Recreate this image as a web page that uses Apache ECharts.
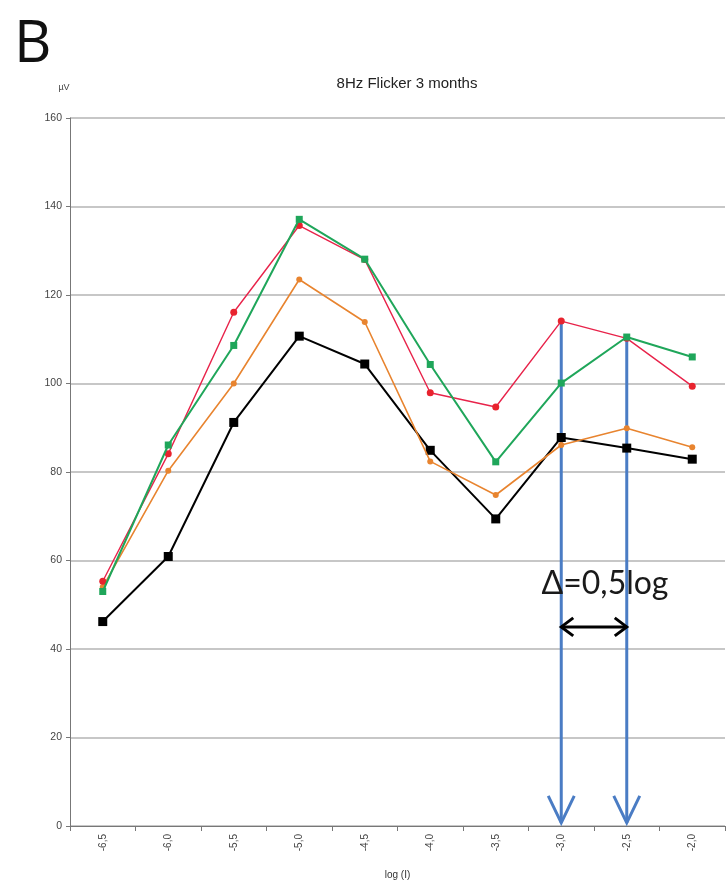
<!DOCTYPE html>
<html>
<head>
<meta charset="utf-8">
<style>
html,body{margin:0;padding:0;background:#fff;}
#chart{width:727px;height:885px;}
</style>
<script src="https://cdn.jsdelivr.net/npm/echarts@6/dist/echarts.min.js"></script>
</head>
<body>
<div id="chart"></div>
<script>
// ---- data ----
var categories = ['-6,5','-6,0','-5,5','-5,0','-4,5','-4,0','-3,5','-3,0','-2,5','-2,0'];
var blackSeries  = [46.2, 60.9, 91.2, 110.7, 104.4, 84.9, 69.4, 87.8, 85.4, 82.9];
var orangeSeries = [54.0, 80.3, 100.0, 123.5, 113.9, 82.4, 74.8, 86.1, 89.9, 85.6];
var redSeries    = [55.3, 84.1, 116.1, 135.7, 128.0, 97.9, 94.7, 114.1, 110.2, 99.4];
var greenSeries  = [53.0, 86.1, 108.6, 137.1, 128.1, 104.3, 82.3, 100.1, 110.5, 106.0];
var yTicks = [0, 20, 40, 60, 80, 100, 120, 140, 160];
// annotation: vertical arrows from a data point down to the axis
var arrowCats = ['-3,0', '-2,5'];
var arrowTops = [114.1, 110.5];
var arrowBottom = 0.7;
// annotation: horizontal double arrow + label
var deltaFrom = '-3,0', deltaTo = '-2,5', deltaLevel = 45, deltaTextLevel = 54.7;
var deltaLabel = 'Δ=0,5log';

var chart = echarts.init(document.getElementById('chart'), null, {renderer: 'canvas'});

var blue = '#4a7cc4';

var option = {
  animation: false,
  backgroundColor: '#fff',
  grid: {left: 70, right: 2, top: 118, bottom: 58, containLabel: false},
  graphic: [
    {type: 'text', left: 14, top: 16, style: {text: 'B', font: '58px "Open Sans", Lato, sans-serif', fill: '#111'}},
    {type: 'text', x: 407, y: 84, style: {text: '8Hz Flicker 3 months', font: '15px "Liberation Sans", Arial, sans-serif', fill: '#222', align: 'center', verticalAlign: 'middle'}},
    {type: 'text', x: 64, y: 88, style: {text: 'µV', font: '9px "Liberation Sans", Arial, sans-serif', fill: '#444', align: 'center', verticalAlign: 'middle'}}
  ],
  xAxis: {
    type: 'category',
    data: categories,
    boundaryGap: true,
    name: 'log (I)',
    nameLocation: 'middle',
    nameGap: 44,
    nameTextStyle: {fontSize: 10, color: '#333', fontFamily: '"Liberation Sans", Arial, sans-serif'},
    axisLine: {show: true, lineStyle: {color: '#777', width: 1}},
    axisTick: {show: true, length: 5, lineStyle: {color: '#777'}},
    axisLabel: {rotate: 90, fontSize: 10, color: '#444', margin: 8, fontFamily: '"Liberation Sans", Arial, sans-serif'},
    splitLine: {show: false}
  },
  yAxis: {
    type: 'value',
    min: yTicks[0],
    max: yTicks[yTicks.length - 1],
    interval: yTicks[1] - yTicks[0],
    axisLine: {show: true, lineStyle: {color: '#777', width: 1}},
    axisTick: {show: true, length: 4, lineStyle: {color: '#777'}},
    axisLabel: {fontSize: 10.5, color: '#444', margin: 8, fontFamily: '"Liberation Sans", Arial, sans-serif'},
    splitLine: {show: true, lineStyle: {color: '#b4b4b4', width: 1.5}}
  },
  series: [
    {
      type: 'custom', z: 1, clip: false, silent: true,
      data: arrowCats.map(function (c, i) { return [categories.indexOf(c), arrowTops[i], arrowBottom]; }),
      renderItem: function (params, api) {
        var top = api.coord([api.value(0), api.value(1)]);
        var bot = api.coord([api.value(0), api.value(2)]);
        return {
          type: 'group',
          children: [
            {type: 'line', shape: {x1: top[0], y1: top[1], x2: bot[0], y2: bot[1]},
             style: {stroke: blue, lineWidth: 3}},
            {type: 'polyline', shape: {points: [[bot[0] - 13, bot[1] - 27], [bot[0], bot[1]], [bot[0] + 13, bot[1] - 27]]},
             style: {stroke: blue, lineWidth: 3, fill: null}}
          ]
        };
      }
    },
    {type: 'line', data: blackSeries, symbol: 'rect', symbolSize: 9,
     itemStyle: {color: '#000'}, lineStyle: {color: '#000', width: 2}, z: 2},
    {type: 'line', data: orangeSeries, symbol: 'circle', symbolSize: 6,
     itemStyle: {color: '#e8842f'}, lineStyle: {color: '#e8842f', width: 1.6}, z: 3},
    {type: 'line', data: redSeries, symbol: 'circle', symbolSize: 7,
     itemStyle: {color: '#e8232e'}, lineStyle: {color: '#e8234a', width: 1.4}, z: 4},
    {type: 'line', data: greenSeries, symbol: 'rect', symbolSize: 7,
     itemStyle: {color: '#1fa65a'}, lineStyle: {color: '#1fa65a', width: 2}, z: 5},
    {
      type: 'custom', z: 11, clip: false, silent: true,
      data: [[categories.indexOf(deltaFrom), categories.indexOf(deltaTo), deltaLevel, deltaTextLevel]],
      renderItem: function (params, api) {
        var a = api.coord([api.value(0), api.value(2)]);
        var b = api.coord([api.value(1), api.value(2)]);
        var ty = api.coord([api.value(0), api.value(3)])[1];
        var tx = (a[0] + b[0]) / 2 + 11;
        var h = 9, w = 12;
        return {
          type: 'group',
          children: [
            {type: 'line', shape: {x1: a[0], y1: a[1], x2: b[0], y2: b[1]},
             style: {stroke: '#000', lineWidth: 3}},
            {type: 'polyline', shape: {points: [[a[0] + w, a[1] - h], [a[0], a[1]], [a[0] + w, a[1] + h]]},
             style: {stroke: '#000', lineWidth: 3, fill: null}},
            {type: 'polyline', shape: {points: [[b[0] - w, b[1] - h], [b[0], b[1]], [b[0] - w, b[1] + h]]},
             style: {stroke: '#000', lineWidth: 3, fill: null}},
            {type: 'text', x: tx, y: ty,
             style: {text: deltaLabel, font: '32px Lato, "Open Sans", sans-serif', fill: '#1a1a1a',
                     align: 'center', verticalAlign: 'middle'}}
          ]
        };
      }
    }
  ]
};
chart.setOption(option);
</script>
</body>
</html>
